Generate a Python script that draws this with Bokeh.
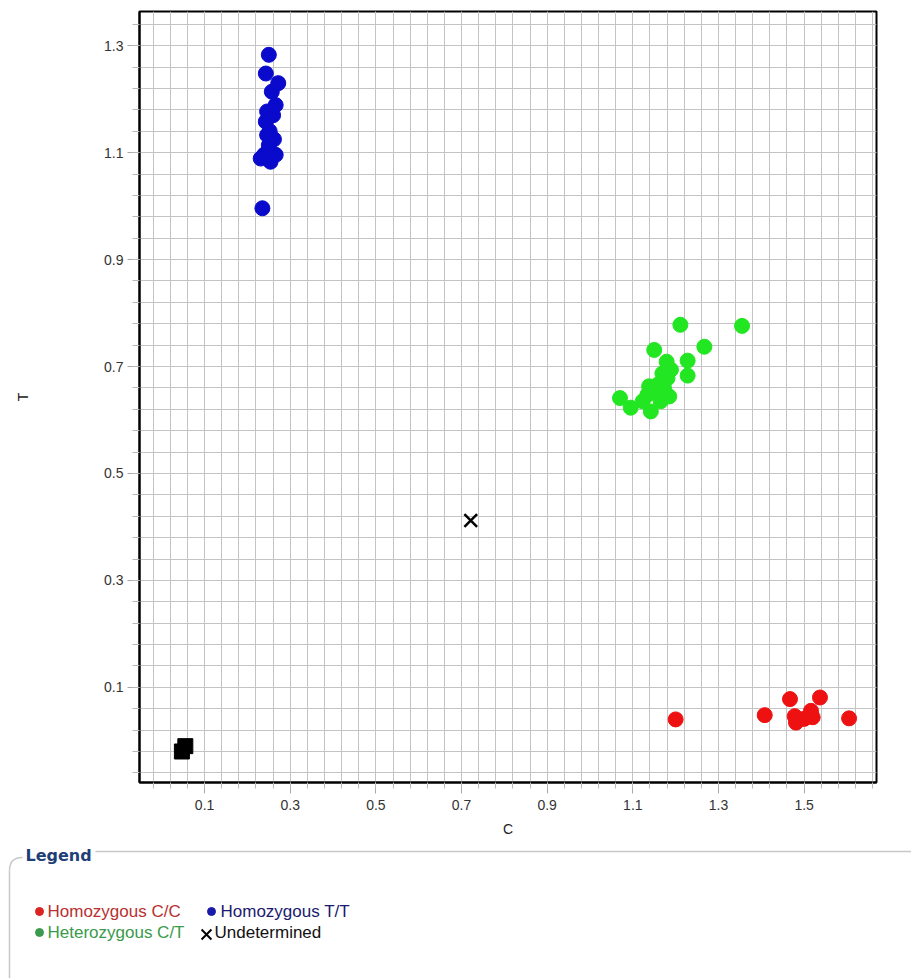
from bokeh.plotting import figure
from bokeh.models import Range1d, FixedTicker, PrintfTickFormatter
from bokeh.layouts import column
from bokeh.core.properties import value
from bokeh.embed import file_html
from bokeh.resources import INLINE

# Allelic discrimination results (C allele vs T allele signal)
cc_x = [1.200, 1.408, 1.467, 1.537, 1.478, 1.481, 1.516, 1.520, 1.500, 1.605]
cc_y = [0.040, 0.048, 0.078, 0.081, 0.046, 0.034, 0.056, 0.044, 0.041, 0.042]

tt_x = [0.250, 0.243, 0.272, 0.257, 0.266, 0.246, 0.243, 0.246, 0.250, 0.239,
        0.266, 0.231, 0.254, 0.235, 0.252, 0.248, 0.260, 0.262]
tt_y = [1.283, 1.248, 1.230, 1.214, 1.189, 1.177, 1.158, 1.133, 1.114, 1.096,
        1.096, 1.089, 1.083, 0.996, 1.140, 1.102, 1.170, 1.125]

ct_x = [1.211, 1.355, 1.150, 1.267, 1.179, 1.228, 1.228, 1.070, 1.095, 1.142,
        1.134, 1.158, 1.181, 1.189, 1.185, 1.165, 1.123, 1.146, 1.169, 1.158,
        1.173, 1.138]
ct_y = [0.778, 0.776, 0.731, 0.737, 0.709, 0.711, 0.683, 0.641, 0.623, 0.616,
        0.647, 0.666, 0.678, 0.694, 0.644, 0.635, 0.635, 0.653, 0.687, 0.650,
        0.659, 0.663]

und_x = [0.7215]
und_y = [0.412]

ntc_x = [0.055, 0.047]
ntc_y = [-0.010, -0.020]

major_ticks = [0.1, 0.3, 0.5, 0.7, 0.9, 1.1, 1.3, 1.5]
x_minor = [round(-0.02 + 0.04 * k, 2) for k in range(43)]
y_minor = [round(-0.06 + 0.04 * k, 2) for k in range(36)]
y_major = [t for t in major_ticks if t <= 1.3]

p = figure(width=911, height=845,
           x_range=Range1d(-0.052, 1.669), y_range=Range1d(-0.078, 1.364),
           output_backend="svg", toolbar_location=None,
           min_border_left=139, min_border_right=35,
           min_border_top=11, min_border_bottom=63)
p.frame_align = False

p.outline_line_color = "black"
p.outline_line_width = 2

p.xaxis.ticker = FixedTicker(ticks=major_ticks, minor_ticks=x_minor)
p.yaxis.ticker = FixedTicker(ticks=y_major, minor_ticks=y_minor)
p.xgrid.ticker = FixedTicker(ticks=major_ticks, minor_ticks=x_minor)
p.ygrid.ticker = FixedTicker(ticks=y_major, minor_ticks=y_minor)
for g in (p.xgrid, p.ygrid):
    g.grid_line_color = "#c4c4c4"
    g.grid_line_width = 1
    g.minor_grid_line_color = "#c4c4c4"
    g.minor_grid_line_width = 1

for ax in (p.xaxis, p.yaxis):
    ax.formatter = PrintfTickFormatter(format="%.1f")
    ax.axis_line_color = "black"
    ax.axis_line_width = 2
    ax.major_tick_line_color = "#a8a8a8"
    ax.minor_tick_line_color = "#b8b8b8"
    ax.major_tick_in = 0
    ax.minor_tick_in = 0
    ax.major_label_text_font = "Liberation Sans"
    ax.major_label_text_font_size = "14px"
    ax.major_label_text_color = "#333333"
    ax.axis_label_text_font = "Liberation Sans"
    ax.axis_label_text_font_size = "14px"
    ax.axis_label_text_font_style = "normal"
    ax.axis_label_text_color = "#222222"

p.xaxis.major_tick_out = 11
p.xaxis.minor_tick_out = 6
p.xaxis.major_label_standoff = 6
p.xaxis.axis_label = "C"
p.xaxis.axis_label_standoff = 8

p.yaxis.major_tick_out = 12
p.yaxis.minor_tick_out = 7
p.yaxis.major_label_standoff = 4
p.yaxis.axis_label = "T"
p.yaxis.axis_label_standoff = 70

p.scatter(cc_x, cc_y, marker="circle", size=15, fill_color="#ee1111", line_color="#ee1111")
p.scatter(tt_x, tt_y, marker="circle", size=15, fill_color="#0a0acc", line_color="#0a0acc")
p.scatter(ct_x, ct_y, marker="circle", size=15, fill_color="#22e622", line_color="#22e622")
p.scatter(und_x, und_y, marker="x", size=18, line_color="black", line_width=2.5)
p.scatter(ntc_x, ntc_y, marker="square", size=15, fill_color="black", line_color="black")

# Legend panel drawn in page-pixel coordinates
leg = figure(width=911, height=133, x_range=Range1d(0, 911), y_range=Range1d(978, 845),
             output_backend="svg", toolbar_location=None, min_border=0,
             x_axis_type=None, y_axis_type=None)
leg.frame_align = False
leg.outline_line_color = None
leg.grid.visible = False

border = "#c8c8c8"
leg.line([95, 911], [851, 851], line_color=border, line_width=1.5)
leg.line([9, 9], [870, 978], line_color=border, line_width=1.5)
leg.quadratic(x0=[9], y0=[870], x1=[22], y1=[857], cx=[9], cy=[857],
              line_color=border, line_width=1.5)

leg.text(x=[25], y=[855], text=["Legend"], text_baseline="middle",
         text_font=value("DejaVu Sans"), text_font_size="16px",
         text_font_style="bold", text_color="#1f3f78")

item_font = value("Liberation Sans")
leg.scatter([39], [911], marker="circle", size=8, fill_color="#dd2222", line_color="#dd2222")
leg.text(x=[47], y=[911], text=["Homozygous C/C"], text_baseline="middle",
         text_font=item_font, text_font_size="17px", text_color="#b83030")
leg.scatter([211], [911], marker="circle", size=8, fill_color="#1a1aaa", line_color="#1a1aaa")
leg.text(x=[220], y=[911], text=["Homozygous T/T"], text_baseline="middle",
         text_font=item_font, text_font_size="17px", text_color="#1a1a70")
leg.scatter([39], [932], marker="circle", size=8, fill_color="#3a9a50", line_color="#3a9a50")
leg.text(x=[47], y=[932], text=["Heterozygous C/T"], text_baseline="middle",
         text_font=item_font, text_font_size="17px", text_color="#3a9a4a")
leg.scatter([206], [934], marker="x", size=14, line_color="black", line_width=2)
leg.text(x=[214], y=[932], text=["Undetermined"], text_baseline="middle",
         text_font=item_font, text_font_size="17px", text_color="#111111")

layout = column(p, leg, spacing=0)
open("out.html", "w").write(file_html(layout, INLINE))
